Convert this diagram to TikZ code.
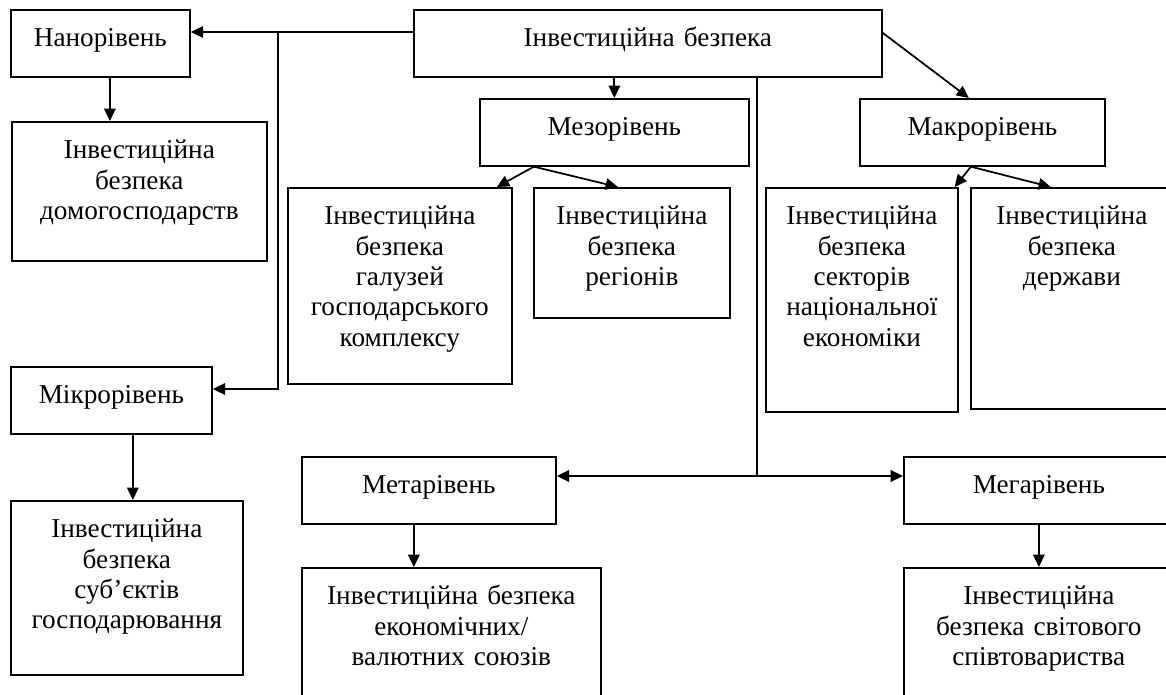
\documentclass[tikz,border=0pt]{standalone}
\usepackage{fontspec}
\setmainfont{Liberation Serif}
\usepackage{tikz}
\usetikzlibrary{calc, arrows.meta}
\tikzstyle{lvl}=[draw, line width=1pt, anchor=north west, align=center, inner xsep=0pt, inner ysep=10pt, text height=11pt, font=\fontsize{15.5}{17.3}\selectfont]

\begin{document}
\begin{tikzpicture}[x=0.02cm,y=-0.02cm,>={Triangle[length=7pt,width=6.5pt]},line width=1pt]
      \useasboundingbox (0,0) rectangle (1166,695);
      % levels
      \node [lvl, text width=9.36cm, text depth=7.1pt] (inv) at (413,9) {Інвестиційна безпека};
      \node [lvl, text width=3.58cm, text depth=7.1pt] (nano) at (10,9) {Нанорівень};
      \node [lvl, text width=5.38cm, text depth=7.1pt] (mezo) at (479,98) {Мезорівень};
      \node [lvl, text width=4.90cm, text depth=7.1pt] (makro) at (859,98) {Макрорівень};
      \node [lvl, text width=4.02cm, text depth=7.1pt] (mikro) at (10,366) {Мікрорівень};
      \node [lvl, text width=5.08cm, text depth=7.1pt] (meta) at (301,456) {Метарівень};
      \node [lvl, text width=5.40cm, text depth=7.1pt] (mega) at (903,456) {Мегарівень};
      % objects
      \node [lvl, text width=5.10cm, text depth=48.1pt] (domo) at (11,121) {Інвестиційна\\безпека\\домогосподарств};
      \node [lvl, text width=4.48cm, text depth=80.5pt] (galuz) at (287,187) {Інвестиційна\\безпека\\галузей\\господарського\\комплексу};
      \node [lvl, text width=3.92cm, text depth=43pt] (region) at (533,187) {Інвестиційна\\безпека\\регіонів};
      \node [lvl, text width=3.84cm, text depth=96.5pt] (sektor) at (765,187) {Інвестиційна\\безпека\\секторів\\національної\\економіки};
      \node [lvl, text width=4.04cm, text depth=94.8pt] (derzh) at (970,187) {Інвестиційна\\безпека\\держави};
      \node [lvl, text width=4.64cm, text depth=68pt] (subj) at (10,500) {Інвестиційна\\безпека\\суб’єктів\\господарювання};
      \node [lvl, text width=5.98cm, text depth=48.7pt] (soyuz) at (301,567) {Інвестиційна безпека\\економічних/\\валютних союзів};
      \node [lvl, text width=5.40cm, text depth=48.7pt] (svit) at (903,567) {Інвестиційна\\безпека світового\\співтовариства};
      % junctions
      \coordinate (j1) at (278,32);
      \coordinate (j2) at (278,389);
      \coordinate (j3) at (757,476);
      \coordinate (n1) at ([xshift=0.19cm]nano.south);
      \coordinate (m1) at ([xshift=0.43cm]mikro.south);
      \coordinate (t1) at ([xshift=-0.3cm]meta.south);
      % links
      \draw[->] (inv.west |- j1) -- (nano.east |- j1);
      \draw[->] (j1) -- (j2) -- (mikro.east |- j2);
      \draw[->] (n1) -- (n1 |- domo.north);
      \draw[->] (m1) -- (m1 |- subj.north);
      \draw[->] (mezo.north |- inv.south) -- (mezo.north);
      \draw[->] ([xshift=-1.61cm]mezo.south) -- ([xshift=1.94cm]galuz.north);
      \draw[->] ([xshift=-1.61cm]mezo.south) -- ([xshift=-0.28cm]region.north);
      \draw[->] ([yshift=0.21cm]inv.east) -- ([xshift=-0.27cm]makro.north);
      \draw[->] ([xshift=-0.23cm]makro.south) -- ([xshift=-0.08cm]sektor.north east);
      \draw[->] ([xshift=-0.23cm]makro.south) -- ([xshift=-0.42cm]derzh.north);
      \draw (inv.south -| j3) -- (j3);
      \draw[->] (j3) -- (meta.east |- j3);
      \draw[->] (j3) -- (mega.west |- j3);
      \draw[->] (t1) -- (t1 |- soyuz.north);
      \draw[->] (mega.south) -- (svit.north);
\end{tikzpicture}
\end{document}
